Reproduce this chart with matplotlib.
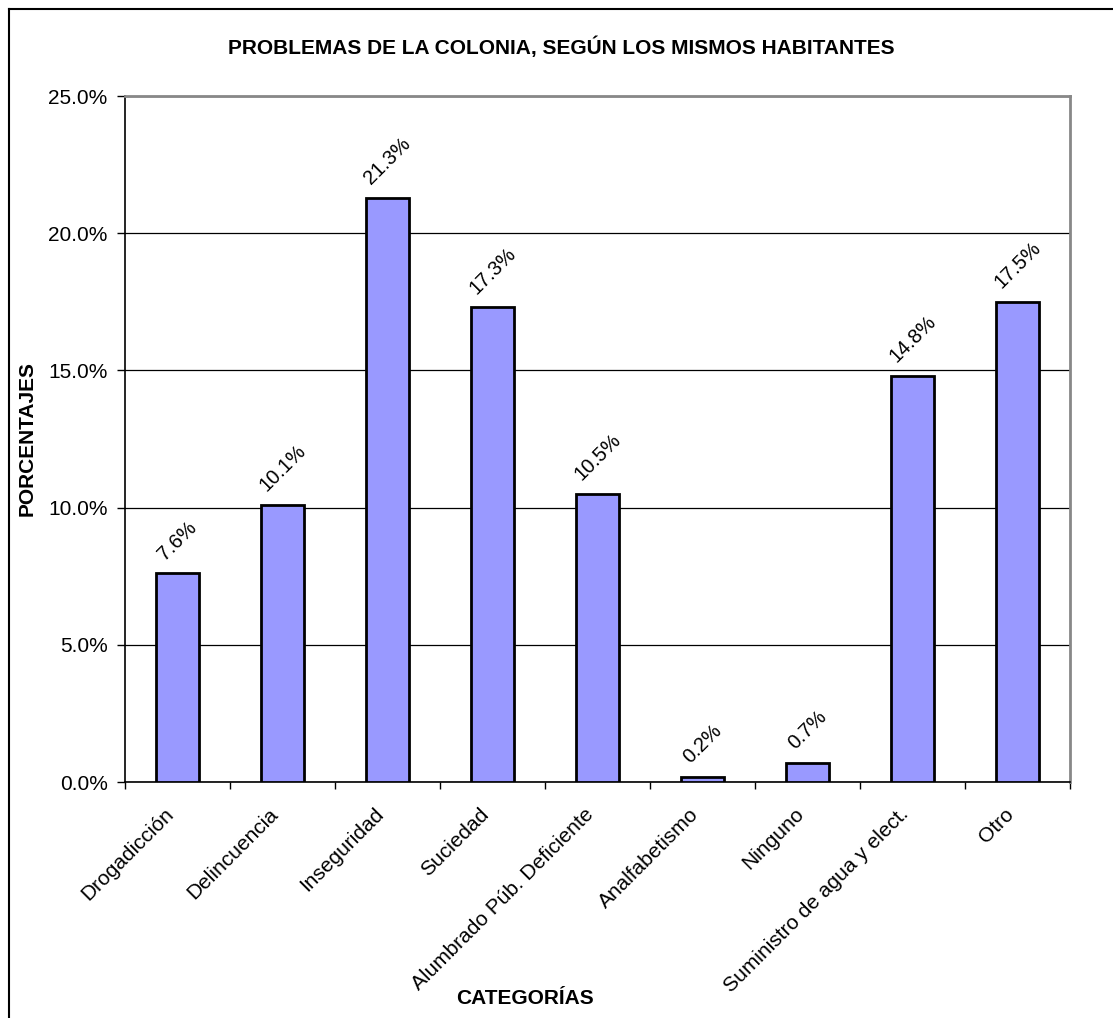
import matplotlib
matplotlib.use("Agg")
import matplotlib.pyplot as plt
import matplotlib.transforms as mtransforms
from matplotlib.lines import Line2D

# Data
categories = ["Drogadicción", "Delincuencia", "Inseguridad", "Suciedad",
              "Alumbrado Púb. Deficiente", "Analfabetismo", "Ninguno",
              "Suministro de agua y elect.", "Otro"]
percentages = [7.6, 10.1, 21.3, 17.3, 10.5, 0.2, 0.7, 14.8, 17.5]
y_ticks = [0, 5, 10, 15, 20, 25]

plt.rcParams['font.family'] = ['Liberation Sans', 'DejaVu Sans']

fig = plt.figure(figsize=(11.13, 10.18), dpi=100)
ax = fig.add_axes([125 / 1113, 1 - 782 / 1018, 945 / 1113, 686 / 1018])

x = list(range(len(categories)))
bars = ax.bar(x, percentages, width=0.41, color='#9999FF', edgecolor='black',
              linewidth=2, zorder=3)

# Value labels, rotated like the original
for xi, val in zip(x, percentages):
    ax.annotate(f"{val:.1f}%", (xi, val), xytext=(0, 7), textcoords='offset points',
                ha='center', va='bottom', rotation=45, fontsize=14.5)

ax.set_xlim(-0.5, len(categories) - 0.5)
ax.set_ylim(0, 25)
ax.set_yticks(y_ticks)
ax.set_yticklabels([f"{t:.1f}%" for t in y_ticks], fontsize=15)
ax.yaxis.grid(True, color='black', linewidth=0.9, zorder=0)

# Category labels at centres, ticks at the boundaries
ax.set_xticks(x)
ax.set_xticklabels(categories, rotation=45, ha='right', va='center',
                   rotation_mode='anchor', fontsize=15)
ax.tick_params(axis='x', length=0, pad=21)
shift = mtransforms.ScaledTranslation(-7 / 100, 0, fig.dpi_scale_trans)
for lbl in ax.get_xticklabels():
    lbl.set_transform(lbl.get_transform() + shift)
ax.set_xticks([i - 0.5 for i in range(len(categories) + 1)], minor=True)
ax.tick_params(axis='x', which='minor', length=5, width=1, color='black', direction='out')
ax.tick_params(axis='y', length=6, width=1, direction='out', pad=6.5)

for side in ['top', 'right']:
    ax.spines[side].set_color('#888888')
    ax.spines[side].set_linewidth(2)
ax.spines['left'].set_linewidth(1.2)
ax.spines['bottom'].set_linewidth(1.2)

fig.text(27 / 1113, 1 - 438 / 1018, "PORCENTAJES", fontsize=15, fontweight='bold',
         rotation=90, ha='center', va='center')
fig.text(525 / 1113, 1 - 999 / 1018, "CATEGORÍAS", fontsize=15, fontweight='bold',
         ha='center', va='center')
fig.text(561 / 1113, 1 - 47 / 1018, "PROBLEMAS DE LA COLONIA, SEGÚN LOS MISMOS HABITANTES",
         fontsize=15, fontweight='bold', ha='center', va='center')

# Outer frame (left and top edges only visible)
fig.add_artist(Line2D([8.5 / 1113, 8.5 / 1113], [0, 1 - 8.5 / 1018], color='black', linewidth=1.5,
                      transform=fig.transFigure))
fig.add_artist(Line2D([8.5 / 1113, 1], [1 - 8.5 / 1018, 1 - 8.5 / 1018], color='black', linewidth=1.5,
                      transform=fig.transFigure))

fig.savefig("out.png", dpi=100)
